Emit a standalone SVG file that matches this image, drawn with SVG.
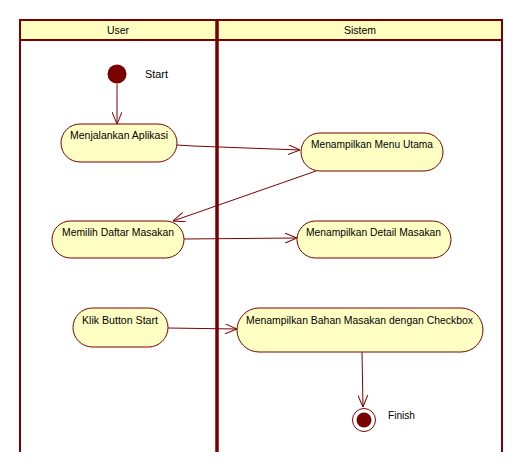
<svg xmlns="http://www.w3.org/2000/svg" width="528" height="472" viewBox="0 0 528 472">
<defs>
<style>
.lane{fill:none;stroke:#7a0000;stroke-width:2}
.hdr{fill:#ffffc0;stroke:#7a0000;stroke-width:2}
.node{fill:#ffffc4;stroke:#7a0000;stroke-width:1}
.t{font-family:"Liberation Sans",Arial,sans-serif;font-size:10.5px;fill:#000}
.c{fill:none;stroke:#7a0000;stroke-width:1}
</style>
<marker id="arr" viewBox="0 0 12 10" refX="12" refY="5" markerWidth="12" markerHeight="10" markerUnits="userSpaceOnUse" orient="auto">
<path d="M0,0 L12,5 L0,10" fill="none" stroke="#7a0000" stroke-width="1"/>
</marker>
</defs>
<rect width="528" height="472" fill="#fff"/>
<g id="swimlanes">
<rect class="hdr" x="20" y="20" width="482" height="20"/>
<line class="lane" x1="20" y1="20" x2="20" y2="452"/>
<line class="lane" x1="502" y1="20" x2="502" y2="452"/>
<line x1="217" y1="20" x2="217" y2="452" stroke="#7a0000" stroke-width="3.5"/>
<text class="t" x="118" y="34" text-anchor="middle">User</text>
<text class="t" x="360" y="34" text-anchor="middle">Sistem</text>
</g>
<g id="connectors">
<line class="c" x1="117" y1="84" x2="117" y2="124" marker-end="url(#arr)"/>
<polyline class="c" points="177,145 193,146 300,150" marker-end="url(#arr)"/>
<line class="c" x1="316" y1="171" x2="173" y2="221" marker-end="url(#arr)"/>
<line class="c" x1="184" y1="239" x2="297" y2="238" marker-end="url(#arr)"/>
<line class="c" x1="168" y1="328" x2="237" y2="329" marker-end="url(#arr)"/>
<line class="c" x1="362" y1="352" x2="363" y2="407" marker-end="url(#arr)"/>
</g>
<g id="start">
<circle cx="117" cy="74" r="9.5" fill="#7a0000"/>
<text class="t" x="145" y="78" textLength="23" lengthAdjust="spacingAndGlyphs">Start</text>
</g>
<g id="n1">
<rect class="node" x="61" y="124" width="116" height="38" rx="19"/>
<text class="t" x="70" y="139" textLength="98" lengthAdjust="spacingAndGlyphs">Menjalankan Aplikasi</text>
</g>
<g id="n2">
<rect class="node" x="301" y="133" width="142" height="38" rx="19"/>
<text class="t" x="311" y="148" textLength="122" lengthAdjust="spacingAndGlyphs">Menampilkan Menu Utama</text>
</g>
<g id="n3">
<rect class="node" x="52" y="221" width="132" height="37" rx="18.5"/>
<text class="t" x="62" y="236" textLength="112" lengthAdjust="spacingAndGlyphs">Memilih Daftar Masakan</text>
</g>
<g id="n4">
<rect class="node" x="297" y="221" width="154" height="37" rx="18.5"/>
<text class="t" x="306" y="236" textLength="135" lengthAdjust="spacingAndGlyphs">Menampilkan Detail Masakan</text>
</g>
<g id="n5">
<rect class="node" x="73" y="308" width="95" height="39" rx="19.5"/>
<text class="t" x="82" y="324" textLength="76" lengthAdjust="spacingAndGlyphs">Klik Button Start</text>
</g>
<g id="n6">
<rect class="node" x="237" y="308" width="246" height="44" rx="22"/>
<text class="t" x="246" y="324" textLength="227" lengthAdjust="spacingAndGlyphs">Menampilkan Bahan Masakan dengan Checkbox</text>
</g>
<g id="finish">
<circle cx="364" cy="420" r="11.5" fill="#fff" stroke="#7a0000" stroke-width="1"/>
<circle cx="364" cy="420" r="7.5" fill="#7a0000"/>
<text class="t" x="388" y="419" textLength="27" lengthAdjust="spacingAndGlyphs">Finish</text>
</g>
</svg>
